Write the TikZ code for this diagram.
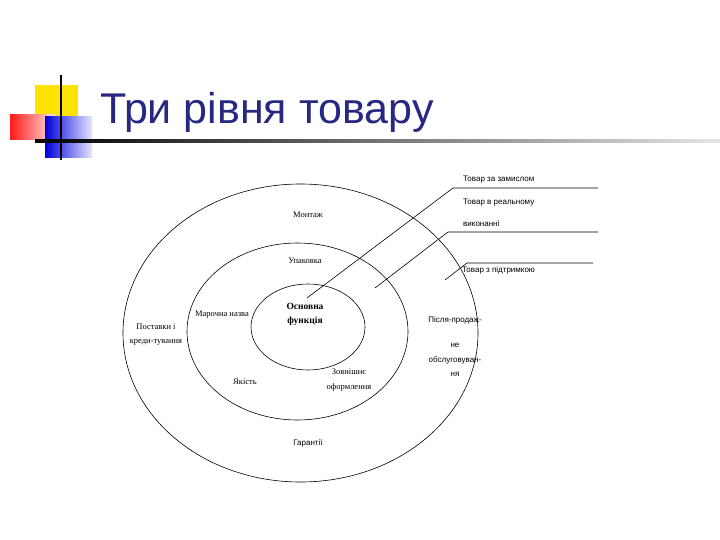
\documentclass[tikz,border=0pt]{standalone}
\usepackage{fontspec}
\usetikzlibrary{shapes.geometric}
\setmainfont{Liberation Serif}
\newfontfamily\lsans{Liberation Sans}
\begin{document}
\begin{tikzpicture}[x=1pt,y=-1pt,
  ser/.style={font=\fontsize{8.5}{9}\selectfont, inner sep=0pt, align=center},
  san/.style={font=\lsans\fontsize{8}{9}\selectfont, inner sep=0pt, align=center},
  ring/.style={draw=black, line width=0.6pt, ellipse, inner sep=0pt},
  lead/.style={draw=black, line width=0.6pt}]
\useasboundingbox (0,0) rectangle (720,540);
% title decoration
\fill[yellow!85!orange] (35,85) rectangle (78,125);
\shade[left color=red!90, right color=red!10] (10,115) rectangle (55,140);
\shade[left color=blue!85!black, right color=blue!10] (45,117) rectangle (92,158);
\shade[left color=black, right color=gray!20] (35,140) rectangle (720,142.2);
\draw[line width=1.5pt] (61,75) -- (61,160);
\node[anchor=base west, inner sep=0pt, text={rgb,255:red,40;green,40;blue,130}, font=\lsans\fontsize{43}{46}\selectfont] (title) at (100,124) {Три рівня товару};
% rings
\node[ring, minimum width=355, minimum height=298] (outer) at (300.5,333) {};
\node[ring, minimum width=221, minimum height=177] (mid) at (297.5,331.5) {};
\node[ring, minimum width=114, minimum height=86] (inner) at (308,327) {};
% leader lines
\coordinate (a0) at (307,298); \coordinate (a1) at (453,188); \coordinate (a2) at (598,188);
\coordinate (b0) at (375,288); \coordinate (b1) at (448,232); \coordinate (b2) at (598,232);
\coordinate (c0) at (445,280); \coordinate (c1) at (467,263); \coordinate (c2) at (593,263);
\draw[lead] (a0) -- (a1) -- (a2);
\draw[lead] (b0) -- (b1) -- (b2);
\draw[lead] (c0) -- (c1) -- (c2);
\node[san, anchor=west] (l1) at (463,180) {Товар за замислом};
\node[san, anchor=west] (l2) at (463,203) {Товар в реальному};
\node[san, anchor=west] (l3) at (463,224) {виконанні};
\node[san, anchor=west] (l4) at (462,270) {Товар з підтримкою};
% texts
\node[ser] (t1) at (308,215) {Монтаж};
\node[ser] (t2) at (305,261) {Упаковка};
\node[ser, font=\bfseries\fontsize{9.5}{14}\selectfont] (t3) at (305,314) {Основна\\функція};
\node[ser] (t4) at (222,315) {Марочна назва};
\node[ser, font=\fontsize{8.5}{14}\selectfont] (t5) at (156,335) {Поставки і\\креди-тування};
\node[san] (t6) at (455,320) {Після-продаж-};
\node[san, font=\lsans\fontsize{8}{14.5}\selectfont] (t7) at (455,360) {не\\обслуговуван-\\ня};
\node[ser] (t8) at (245,382) {Якість};
\node[ser, font=\fontsize{8.5}{15}\selectfont] (t9) at (349,380) {Зовнішнє\\оформлення};
\node[san] (t10) at (308,443) {Гарантії};
\end{tikzpicture}
\end{document}
